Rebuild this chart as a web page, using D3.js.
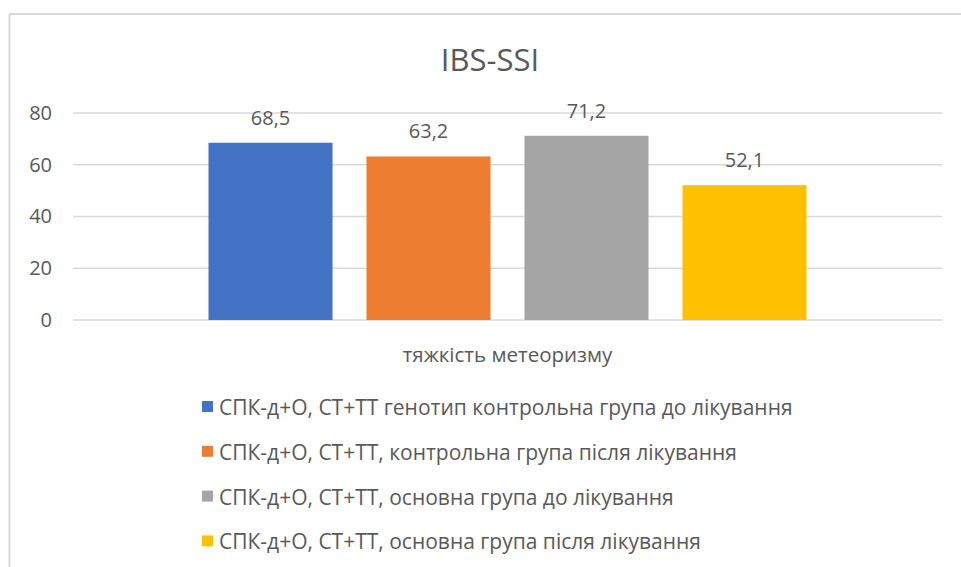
<!DOCTYPE html>
<html>
<head>
<meta charset="utf-8">
<script src="https://cdn.jsdelivr.net/npm/d3@7"></script>
<style>
  body { margin: 0; background: #fff; }
  text { font-family: "Open Sans", "Noto Sans", sans-serif; fill: #595959; }
</style>
</head>
<body>
<div id="vis"></div>
<script>
var title = "IBS-SSI";
var category = "тяжкість метеоризму";
var seriesNames = [
    "СПК-д+О, СТ+ТТ генотип контрольна група до лікування",
    "СПК-д+О, СТ+ТТ, контрольна група після лікування",
    "СПК-д+О, СТ+ТТ, основна група до лікування",
    "СПК-д+О, СТ+ТТ, основна група після лікування"
];
var values = [68.5, 63.2, 71.2, 52.1];
var colors = ["#4472c4", "#ed7d31", "#a5a5a5", "#ffc000"];
var yTicks = [0, 20, 40, 60, 80];

var W = 961, H = 567;
var plot = {left: 73, right: 942, top: 113, bottom: 320};

var svg = d3.select("#vis").append("svg")
    .attr("width", W)
    .attr("height", H);

// chart frame (only top and left edges are in the picture)
svg.append("line").attr("x1", 9.5).attr("x2", W).attr("y1", 14).attr("y2", 14)
    .attr("stroke", "#d9d9d9").attr("stroke-width", 2);
svg.append("line").attr("x1", 9.5).attr("x2", 9.5).attr("y1", 14).attr("y2", H)
    .attr("stroke", "#d9d9d9").attr("stroke-width", 2);

svg.append("text")
    .attr("x", 490)
    .attr("y", 71)
    .attr("text-anchor", "middle")
    .style("font-size", "31px")
    .text(title);

var y = d3.scaleLinear().domain([0, 80]).range([plot.bottom, plot.top]);

var x0 = d3.scaleBand().domain([category]).range([plot.left, plot.right]).paddingInner(0).paddingOuter(0.2266);
var x1 = d3.scaleBand().domain(d3.range(values.length)).range([0, x0.bandwidth()]).paddingInner(0.215).paddingOuter(0);

// gridlines
svg.append("g").selectAll("line")
    .data(yTicks)
    .enter().append("line")
    .attr("x1", plot.left)
    .attr("x2", plot.right)
    .attr("y1", function (d) { return y(d); })
    .attr("y2", function (d) { return y(d); })
    .attr("stroke", "#d9d9d9")
    .attr("stroke-width", 1.5);

// y axis labels
var yAxis = d3.axisLeft(y).tickValues(yTicks).tickSize(0).tickPadding(0);
var yg = svg.append("g")
    .attr("transform", "translate(52,0)")
    .call(yAxis);
yg.select(".domain").remove();
yg.selectAll("text")
    .style("font-size", "20px")
    .style("font-family", null)
    .attr("fill", null);

// bars
var g = svg.append("g").attr("transform", "translate(" + x0(category) + ",0)");
g.selectAll("rect")
    .data(values)
    .enter().append("rect")
    .attr("x", function (d, i) { return x1(i); })
    .attr("y", function (d) { return y(d); })
    .attr("width", x1.bandwidth())
    .attr("height", function (d) { return y(0) - y(d); })
    .attr("fill", function (d, i) { return colors[i]; });

g.selectAll(".val")
    .data(values)
    .enter().append("text")
    .attr("class", "val")
    .attr("x", function (d, i) { return x1(i) + x1.bandwidth() / 2; })
    .attr("y", function (d) { return y(d) - 18; })
    .attr("text-anchor", "middle")
    .style("font-size", "20px")
    .text(function (d) { return String(d).replace(".", ","); });

// category label
svg.append("text")
    .attr("x", x0(category) + x0.bandwidth() / 2)
    .attr("y", 362)
    .attr("text-anchor", "middle")
    .style("font-size", "20.5px")
    .text(category);

// legend
var legend = svg.append("g").selectAll("g")
    .data(seriesNames)
    .enter().append("g")
    .attr("transform", function (d, i) { return "translate(202," + (401 + i * 44.8) + ")"; });

legend.append("rect")
    .attr("width", 11)
    .attr("height", 11)
    .attr("fill", function (d, i) { return colors[i]; });

legend.append("text")
    .attr("x", 17)
    .attr("y", 14)
    .style("font-size", "21px")
    .text(function (d) { return d; });
</script>
</body>
</html>
